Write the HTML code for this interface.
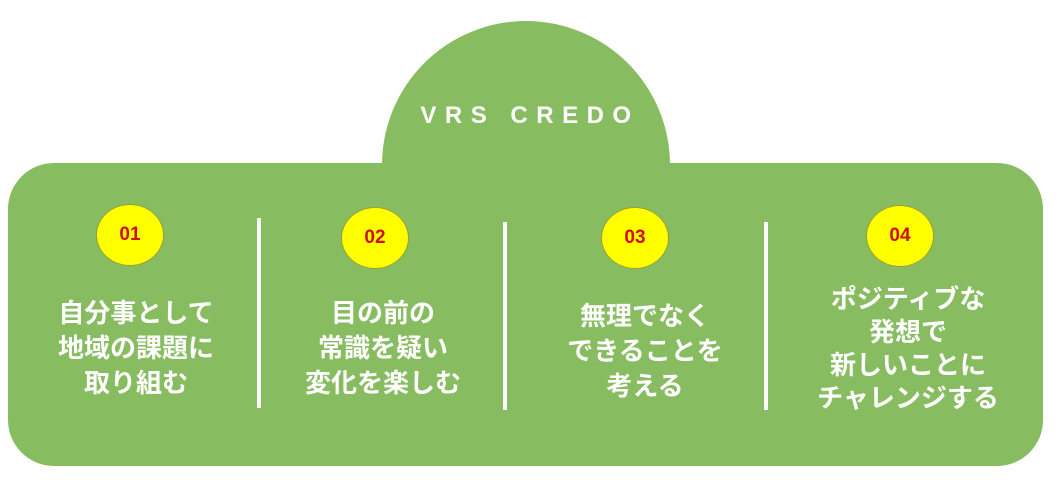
<!DOCTYPE html>
<html><head><meta charset="utf-8"><style>
body{margin:0;width:1060px;height:486px;background:#fff;position:relative;overflow:hidden;font-family:"Liberation Sans","Noto Sans CJK JP",sans-serif}
.g{position:absolute;background:#87bd60}
.dome{left:382px;top:21px;width:288px;height:288px;border-radius:50%}
.main{left:8px;top:163px;width:1035px;height:303px;border-radius:46px}
.t{position:absolute;top:102px;left:386px;width:288px;text-align:center;color:#fff;font-size:24px;letter-spacing:8.5px;font-weight:bold}
.c{position:absolute;width:66px;height:60px;border-radius:50%;background:#ffff00;border:1px solid #9aa030;color:#d01010;font-weight:bold;font-size:19px;text-align:center;line-height:60px}
.d{position:absolute;width:4px;background:#fff}
.x{position:absolute;width:260px;text-align:center;color:#fff;font-weight:bold;font-size:26px;line-height:35px}
</style></head><body>
<div class="g dome"></div><div class="g main"></div>
<div class="t">VRS CREDO</div>
<div class="c" style="left:96px;top:204px">01</div>
<div class="c" style="left:341px;top:207px">02</div>
<div class="c" style="left:601px;top:207px">03</div>
<div class="c" style="left:866px;top:205px">04</div>
<div class="d" style="left:257px;top:218px;height:190px"></div>
<div class="d" style="left:503px;top:222px;height:188px"></div>
<div class="d" style="left:764px;top:222px;height:188px"></div>
<div class="x" style="left:6px;top:296px">自分事として<br>地域の課題に<br>取り組む</div>
<div class="x" style="left:253px;top:296px">目の前の<br>常識を疑い<br>変化を楽しむ</div>
<div class="x" style="left:515px;top:299px">無理でなく<br>できることを<br>考える</div>
<div class="x" style="left:778px;top:283px;line-height:33px">ポジティブな<br>発想で<br>新しいことに<br>チャレンジする</div>
</body></html>
